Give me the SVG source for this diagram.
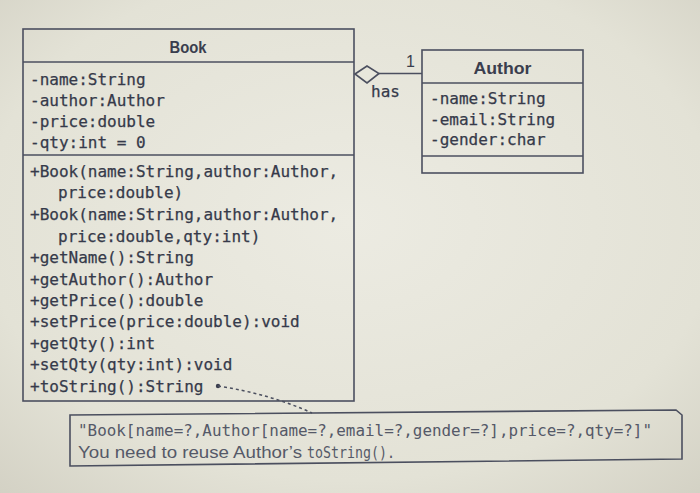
<svg xmlns="http://www.w3.org/2000/svg" width="700" height="493" viewBox="0 0 700 493">
<defs>
<radialGradient id="bg" cx="0.5" cy="0.45" r="0.75">
<stop offset="0" stop-color="#ecebe2"/>
<stop offset="0.7" stop-color="#e3e2d6"/>
<stop offset="1" stop-color="#d3d1c4"/>
</radialGradient>
<style>
.box{fill:none;stroke:#4b4f5f;stroke-width:1.6}
.ln{stroke:#4b4f5f;stroke-width:1.6;fill:none}
.mono{font-family:"DejaVu Sans Mono","Liberation Mono",monospace;font-size:16px;fill:#363a4a;stroke:#363a4a;stroke-width:0.25}
.title{font-family:"Liberation Sans",Arial,sans-serif;font-weight:bold;font-size:16px;fill:#3a3e4e;text-anchor:middle}
.note{font-family:"DejaVu Sans Mono","Liberation Mono",monospace;font-size:15.5px;fill:#555968}
.notes{font-family:"Liberation Sans",Arial,sans-serif;font-size:16px;fill:#555968}
.lbl{font-family:"Liberation Sans",Arial,sans-serif;font-size:16px;fill:#3a3e4e}
</style>
</defs>
<rect width="700" height="493" fill="url(#bg)"/>
<g id="Book">
<rect class="box" x="23" y="29" width="331" height="372"/>
<line class="ln" x1="23" y1="62" x2="354" y2="62"/>
<line class="ln" x1="23" y1="155" x2="354" y2="155"/>
<text class="title" x="188" y="53" textLength="37" lengthAdjust="spacingAndGlyphs">Book</text>
<text class="mono" x="30" y="85">-name:String</text>
<text class="mono" x="30" y="106">-author:Author</text>
<text class="mono" x="30" y="127">-price:double</text>
<text class="mono" x="30" y="148">-qty:int = 0</text>
<text class="mono" x="30" y="177">+Book(name:String,author:Author,</text>
<text class="mono" x="58" y="198">price:double)</text>
<text class="mono" x="30" y="220">+Book(name:String,author:Author,</text>
<text class="mono" x="58" y="242">price:double,qty:int)</text>
<text class="mono" x="30" y="263">+getName():String</text>
<text class="mono" x="30" y="285">+getAuthor():Author</text>
<text class="mono" x="30" y="306">+getPrice():double</text>
<text class="mono" x="30" y="327">+setPrice(price:double):void</text>
<text class="mono" x="30" y="349">+getQty():int</text>
<text class="mono" x="30" y="370">+setQty(qty:int):void</text>
<text class="mono" x="30" y="392">+toString():String</text>
</g>
<g id="Author">
<rect class="box" x="422" y="50" width="161" height="123"/>
<line class="ln" x1="422" y1="83" x2="583" y2="83"/>
<line class="ln" x1="422" y1="156" x2="583" y2="156"/>
<text class="title" x="502.5" y="74" textLength="58" lengthAdjust="spacingAndGlyphs">Author</text>
<text class="mono" x="430" y="104">-name:String</text>
<text class="mono" x="430" y="125">-email:String</text>
<text class="mono" x="430" y="145">-gender:char</text>
</g>
<g id="Note">
<path class="box" d="M70 415 L676 410 L682 415 L682 459 L70 466 Z"/>
<text class="note" x="78" y="436" textLength="574" lengthAdjust="spacingAndGlyphs">"Book[name=?,Author[name=?,email=?,gender=?],price=?,qty=?]"</text>
<text y="458"><tspan class="notes" x="78" textLength="224" lengthAdjust="spacingAndGlyphs">You need to reuse Author’s</tspan><tspan class="note" x="307" textLength="88" lengthAdjust="spacingAndGlyphs" style="font-size:16px">toString().</tspan></text>
</g>
<g id="connectors">
<path d="M355 74 L367 66 L379 73.5 L367 83 Z" fill="#e8e7dc" stroke="#4b4f5f" stroke-width="1.6"/>
<line class="ln" x1="379" y1="73.5" x2="422" y2="73.5"/>
<text class="lbl" x="406" y="67">1</text>
<text class="mono" x="371" y="97">has</text>
<circle cx="218" cy="386" r="2.2" fill="#3a3e4e"/>
<path d="M218 386 Q270 394 312 413" fill="none" stroke="#4b4f5f" stroke-width="1.5" stroke-dasharray="3 3"/>
</g>
</svg>
